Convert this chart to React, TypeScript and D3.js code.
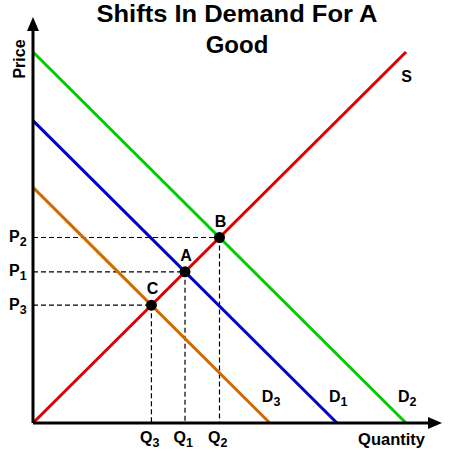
import React from "react";
import * as d3 from "d3";

const supply = { name: "S", p0: 0, p1: 10 }; // P = Q
const demandNames = ["D3", "D1", "D2"];
const demandIntercepts = [6.35, 8.15, 10];
const demandColors = ["#d06a00", "#0000cc", "#00cc00"];
const pointNames = ["C", "A", "B"];
const qLabels = ["3", "1", "2"];
const pLabels = ["3", "1", "2"];

const W = 450, H = 452;
const x = d3.scaleLinear().domain([0, 10]).range([33, 406]);
const y = d3.scaleLinear().domain([0, 10]).range([423, 52]);

export default function App() {
  const font = "'Liberation Sans', Arial, Helvetica, sans-serif";
  const line = d3.line<[number, number]>().x(d => x(d[0])).y(d => y(d[1]));
  const eq = demandIntercepts.map(a => a / 2);
  return (
    <svg width={W} height={H} style={{ position: "absolute", left: 0, top: 0 }} fontFamily={font}>
      <rect width={W} height={H} fill="#fff" />
      <text x={237} y={22} textAnchor="middle" fontSize={24} fontWeight="bold" textLength={281} lengthAdjust="spacingAndGlyphs">Shifts In Demand For A</text>
      <text x={237} y={52.5} textAnchor="middle" fontSize={24} fontWeight="bold">Good</text>
      {/* dashed guides */}
      {eq.map((q, i) => (
        <g key={"g" + i} stroke="#000" strokeWidth={1.2} strokeDasharray="5,3" fill="none">
          <line x1={x(0)} y1={y(q)} x2={x(q)} y2={y(q)} />
          <line x1={x(q)} y1={y(q)} x2={x(q)} y2={y(0)} />
        </g>
      ))}
      {/* demand */}
      {demandIntercepts.map((a, i) => (
        <path key={"d" + i} d={line([[0, a], [a, 0]]) || ""} stroke={demandColors[i]} strokeWidth={3} fill="none" />
      ))}
      <path d={line([[supply.p0, supply.p0], [supply.p1, supply.p1]]) || ""} stroke="#dd0000" strokeWidth={3} fill="none" />
      {/* axes */}
      <line x1={x(0)} y1={y(0)} x2={x(0)} y2={28} stroke="#000" strokeWidth={3} />
      <polygon points={`${x(0)},17 ${x(0) - 6},31 ${x(0) + 6},31`} fill="#000" />
      <line x1={x(0)} y1={y(0)} x2={431} y2={y(0)} stroke="#000" strokeWidth={3} />
      <polygon points={`442,${y(0)} 428,${y(0) - 6} 428,${y(0) + 6}`} fill="#000" />
      {/* points */}
      {eq.map((q, i) => (
        <g key={"p" + i}>
          <circle cx={x(q)} cy={y(q)} r={5.5} fill="#000" />
          <text x={x(q) + 1} y={y(q) - 11} textAnchor="middle" fontSize={16} fontWeight="bold">{pointNames[i]}</text>
        </g>
      ))}
      {/* labels */}
      <text transform="translate(25,59) rotate(-90)" textAnchor="middle" fontSize={16} fontWeight="bold">Price</text>
      <text x={425} y={445} textAnchor="end" fontSize={16.5} fontWeight="bold">Quantity</text>
      <text x={406.5} y={82} textAnchor="middle" fontSize={16} fontWeight="bold">S</text>
      {demandIntercepts.map((a, i) => (
        <text key={"dl" + i} x={x(a) - 8} y={402} fontSize={16} fontWeight="bold">D<tspan dy={4} fontSize={12.5}>{demandNames[i].slice(1)}</tspan></text>
      ))}
      {eq.map((q, i) => (
        <text key={"q" + i} x={x(q) - 11.5} y={443} fontSize={16} fontWeight="bold">Q<tspan dy={3.5} fontSize={12.5}>{qLabels[i]}</tspan></text>
      ))}
      {eq.map((q, i) => (
        <text key={"pl" + i} x={9} y={y(q) + 4.5} fontSize={16} fontWeight="bold">P<tspan dy={4} fontSize={12.5}>{pLabels[i]}</tspan></text>
      ))}
    </svg>
  );
}
